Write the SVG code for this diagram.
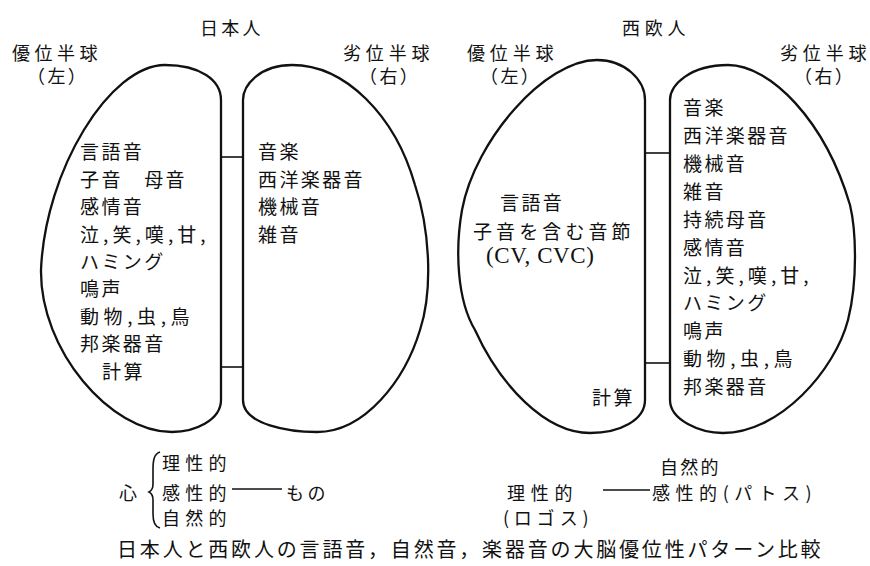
<svg xmlns="http://www.w3.org/2000/svg" width="870" height="566" viewBox="0 0 870 566">
<style>
text{font-family:"Noto Sans CJK JP","Noto Sans CJK SC",sans-serif;font-size:19px;fill:#111;letter-spacing:2.4px}
.sm{font-size:18px}
.serif{font-family:"Liberation Serif","Noto Sans CJK JP",serif;font-size:23px;letter-spacing:0.6px}
.hemi{fill:none;stroke:#111;stroke-width:2.3;stroke-linejoin:round}
.con{stroke:#111;stroke-width:1.6;fill:none}
</style>
<rect width="870" height="566" fill="#fff"/>
<g id="titles">
<text class="sm" x="200" y="35" textLength="63">日本人</text>
<text class="sm" x="622" y="35" textLength="66">西欧人</text>
</g>
<g id="jp-left-label">
<text class="sm" x="12" y="59.5" textLength="88">優位半球</text>
<text class="sm" x="27" y="83" letter-spacing="0">（左）</text>
</g>
<g id="jp-right-label">
<text class="sm" x="343" y="59.5" textLength="89">劣位半球</text>
<text class="sm" x="359" y="83" letter-spacing="0">（右）</text>
</g>
<g id="we-left-label">
<text class="sm" x="467" y="59.5" textLength="89">優位半球</text>
<text class="sm" x="480" y="83" letter-spacing="0">（左）</text>
</g>
<g id="we-right-label">
<text class="sm" x="780" y="59.5" textLength="89">劣位半球</text>
<text class="sm" x="794" y="83" letter-spacing="0">（右）</text>
</g>
<g id="jp-left-hemisphere">
<path class="hemi" d="M221,400 L221,100 C221,80 200,65 165,65 C110,65 45,170 41,270 C40,350 110,432 172,432 C195,432 221,420 221,400 Z"/>
<text x="80" y="159">言語音</text>
<text x="80" y="186.5" textLength="107">子音　母音</text>
<text x="80" y="214">感情音</text>
<text x="80" y="241.5" textLength="128">泣,笑,嘆,甘,</text>
<text x="80" y="269">ハミング</text>
<text x="80" y="296">鳴声</text>
<text x="80" y="323.5" textLength="112">動物,虫,鳥</text>
<text x="80" y="351">邦楽器音</text>
<text x="102" y="378.5">計算</text>
</g>
<g id="jp-right-hemisphere">
<path class="hemi" d="M243,400 L243,100 C243,85 260,65 292,65 C345,65 395,115 415,185 C430,230 433,290 420,330 C405,380 365,432 317,432 C290,432 243,425 243,400 Z"/>
<text x="258" y="159">音楽</text>
<text x="258" y="186.5">西洋楽器音</text>
<text x="258" y="214">機械音</text>
<text x="258" y="241.5">雑音</text>
</g>
<g id="we-left-hemisphere">
<path class="hemi" d="M645,400 L645,100 C645,80 625,60 597,60 C545,60 475,140 462,210 C455,250 457,300 475,330 C500,385 545,433 590,433 C620,433 645,420 645,400 Z"/>
<text x="500" y="210">言語音</text>
<text x="473" y="239" textLength="160">子音を含む音節</text>
<text class="serif" x="486" y="263">(CV, CVC)</text>
<text x="592" y="405">計算</text>
</g>
<g id="we-right-hemisphere">
<path class="hemi" d="M670,400 L670,100 C670,85 690,65 728,65 C770,65 825,120 850,205 C856,230 858,280 848,320 C835,370 780,433 723,433 C700,433 670,420 670,400 Z"/>
<text x="683" y="115">音楽</text>
<text x="683" y="143">西洋楽器音</text>
<text x="683" y="171">機械音</text>
<text x="683" y="199">雑音</text>
<text x="683" y="226.5">持続母音</text>
<text x="683" y="254.5">感情音</text>
<text x="683" y="282.5" textLength="128">泣,笑,嘆,甘,</text>
<text x="683" y="310">ハミング</text>
<text x="683" y="338">鳴声</text>
<text x="683" y="366" textLength="112">動物,虫,鳥</text>
<text x="683" y="394">邦楽器音</text>
</g>
<g id="connectors">
<line class="con" x1="221" y1="157" x2="243" y2="157"/>
<line class="con" x1="221" y1="367" x2="243" y2="367"/>
<line class="con" x1="645" y1="153" x2="670" y2="153"/>
<line class="con" x1="645" y1="363" x2="670" y2="363"/>
<line class="con" x1="232" y1="489" x2="282" y2="489"/>
<line class="con" x1="603" y1="490" x2="650" y2="490"/>
<path class="con" d="M160,452 C154,454 153,460 153,470 L153,484 C153,489 151,491 149,492 C151,493 153,495 153,500 L153,514 C153,522 155,527 160,528"/>
</g>
<g id="jp-mind">
<text class="sm" x="119" y="500">心</text>
<text class="sm" x="162" y="469.5" textLength="67">理性的</text>
<text class="sm" x="162" y="499.5" textLength="67">感性的</text>
<text class="sm" x="162" y="524.5" textLength="67">自然的</text>
<text class="sm" x="286" y="499.5" textLength="42">もの</text>
</g>
<g id="we-mind">
<text class="sm" x="660" y="473.5" textLength="61">自然的</text>
<text class="sm" x="507" y="499.5" textLength="68">理性的</text>
<text class="sm" x="652" y="499.5" textLength="162">感性的(パトス)</text>
<text class="sm" x="503" y="524.5" textLength="88">(ロゴス)</text>
</g>
<g id="caption">
<text x="117" y="557" textLength="706" style="font-size:20px">日本人と西欧人の言語音，自然音，楽器音の大脳優位性パターン比較</text>
</g>
</svg>
